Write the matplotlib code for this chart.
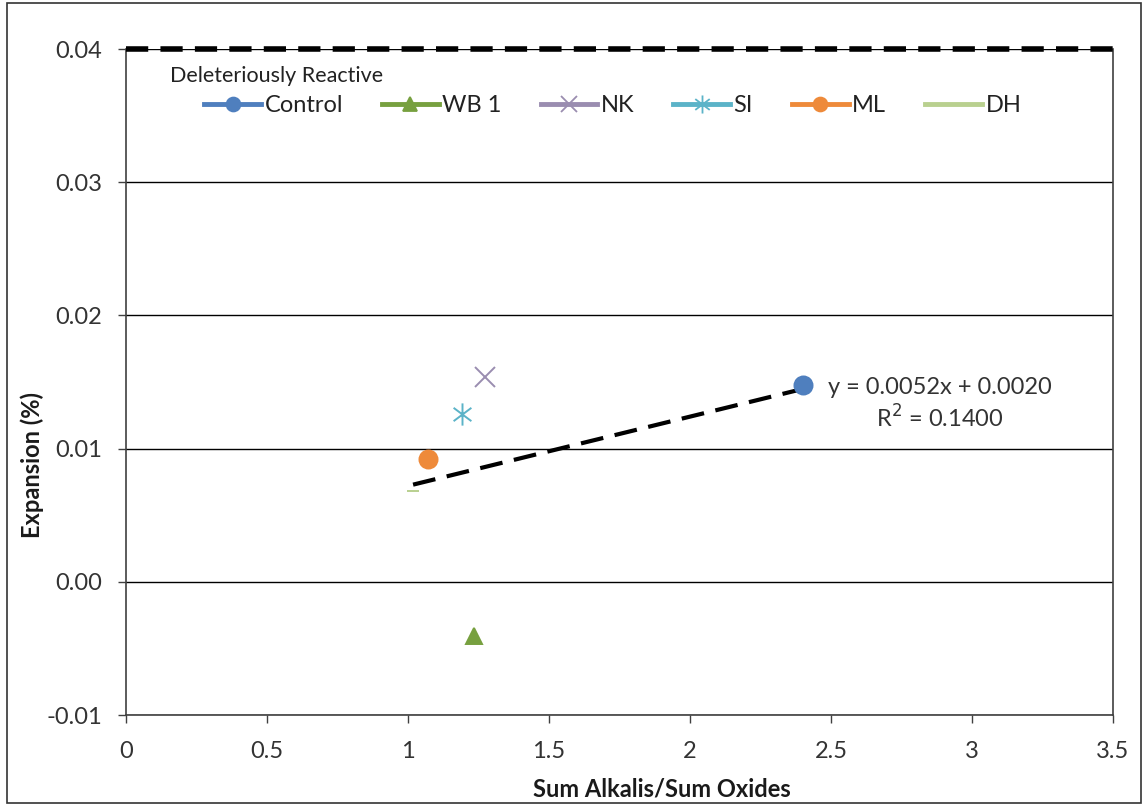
import matplotlib
matplotlib.use("Agg")
import matplotlib.pyplot as plt
from matplotlib.lines import Line2D
from matplotlib.patches import Rectangle
from matplotlib.path import Path

plt.rcParams['font.family'] = ['Lato', 'DejaVu Sans']

series = ["Control", "WB 1", "NK", "SI", "ML", "DH"]
x_vals = [2.40, 1.234, 1.273, 1.191, 1.071, 1.018]
y_vals = [0.0148, -0.0041, 0.0154, 0.0126, 0.0092, 0.0068]
colors = ["#4F7FBE", "#77A03F", "#9A8DB0", "#5BB3C8", "#EE8A3A", "#B9D08F"]

trend_slope = 0.0052
trend_intercept = 0.0020
trend_label = "y = 0.0052x + 0.0020\nR$^2$ = 0.1400"
limit_value = 0.04

xticks = [0, 0.5, 1, 1.5, 2, 2.5, 3, 3.5]
xtick_labels = ["0", "0.5", "1", "1.5", "2", "2.5", "3", "3.5"]
yticks = [-0.01, 0.00, 0.01, 0.02, 0.03, 0.04]
ytick_labels = ["-0.01", "0.00", "0.01", "0.02", "0.03", "0.04"]

# asterisk-like marker (vertical bar + X)
star_path = Path([(0, -1), (0, 1), (-0.8, -0.6), (0.8, 0.6), (-0.8, 0.6), (0.8, -0.6)],
                 [Path.MOVETO, Path.LINETO, Path.MOVETO, Path.LINETO, Path.MOVETO, Path.LINETO])
markers = ["o", "^", "x", star_path, "o", "_"]
sizes = [13, 12, 14, 16, 13, 8]
leg_sizes = [10, 10, 12, 13, 10, 0]

fig = plt.figure(figsize=(11.44, 8.05), dpi=100)
ax = fig.add_axes([126/1144, 1-715/805, (1113-126)/1144, (715-49)/805])

ax.set_xlim(0, 3.5)
ax.set_ylim(-0.01, 0.04)
ax.set_yticks(yticks)
ax.set_yticklabels(ytick_labels)
ax.set_xticks(xticks)
ax.set_xticklabels(xtick_labels)
ax.yaxis.grid(True, color="black", linewidth=1.0)
ax.set_axisbelow(True)
for s in ["left", "bottom", "right", "top"]:
    ax.spines[s].set_color("#404040")
    ax.spines[s].set_linewidth(1.2)
ax.spines["top"].set_visible(False)
ax.tick_params(axis="both", direction="out", length=6, width=1, color="#404040",
               labelsize=17, labelcolor="#333333")
ax.tick_params(axis="y", pad=11)
ax.tick_params(axis="x", pad=13)

# limit line
ax.plot([0, 3.5], [limit_value, limit_value], color="black", linewidth=4,
        linestyle=(0, (4, 2.2)), clip_on=False, zorder=4)

# trend line
tx = [min(x_vals), max(x_vals)]
ty = [trend_slope * v + trend_intercept for v in tx]
ax.plot(tx, ty, color="black", linewidth=3, linestyle=(0, (5.5, 2.8)), zorder=3)

for name, xv, yv, c, m, ms in zip(series, x_vals, y_vals, colors, markers, sizes):
    ax.plot([xv], [yv], linestyle="none", marker=m, color=c, markersize=ms,
            markeredgewidth=1.4, zorder=5)

ax.text(2.886, 0.01333, trend_label, fontsize=17, color="#333333",
        va="center", ha="center", multialignment="center", linespacing=1.3)

ax.set_xlabel("Sum Alkalis/Sum Oxides", fontsize=17, fontweight="bold", color="#1a1a1a")
ax.set_ylabel("Expansion (%)", fontsize=17, fontweight="bold", color="#1a1a1a")
ax.xaxis.set_label_coords(0.543, -0.094)
ax.yaxis.set_label_coords(-0.083, 0.375)

# legend
ax.text(0.155, 0.03797, "Deleteriously Reactive", fontsize=15.5, color="#222222",
        va="center", ha="left")
handles = []
for name, c, m, ms in zip(series, colors, markers, leg_sizes):
    if ms == 0:
        h = Line2D([], [], color=c, linewidth=3.5)
    else:
        h = Line2D([], [], color=c, linewidth=3.5, marker=m, markersize=ms,
                   markeredgewidth=1.3)
    handles.append(h)
leg = ax.legend(handles, series, loc="center left", bbox_to_anchor=(0.058, 0.915), ncol=6,
                frameon=False, fontsize=17, handlelength=2.4, handletextpad=0.15,
                columnspacing=1.65)
for t in leg.get_texts():
    t.set_color("#222222")

# figure border
fig.patches.append(Rectangle((7/1144, 2/805), (1141-7)/1144, (802-2)/805, transform=fig.transFigure,
                             fill=False, edgecolor="#333333", linewidth=1.2))

fig.savefig("out.png", dpi=100)
